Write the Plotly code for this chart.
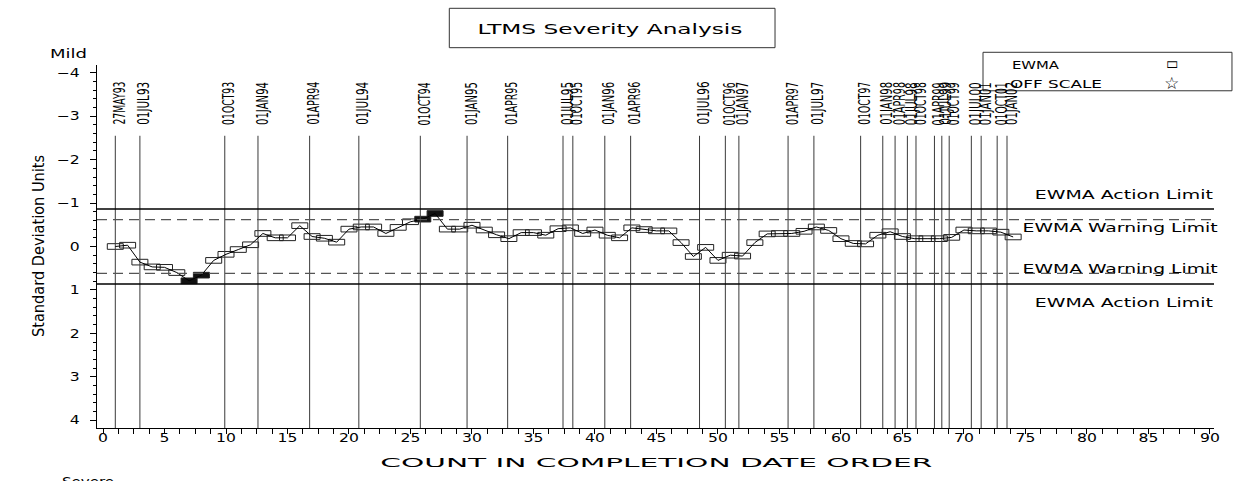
import json
import plotly.graph_objects as go

# ---------------- data ----------------
counts = list(range(1, 75))
ewma = [0.00, -0.03, 0.36, 0.47, 0.48, 0.60, 0.79, 0.66, 0.32, 0.18,
        0.07, -0.04, -0.30, -0.20, -0.20, -0.48, -0.23, -0.19, -0.10, -0.40,
        -0.45, -0.45, -0.30, -0.44, -0.57, -0.63, -0.76, -0.40, -0.40, -0.49,
        -0.38, -0.27, -0.18, -0.32, -0.32, -0.26, -0.41, -0.43, -0.30, -0.38,
        -0.26, -0.20, -0.43, -0.39, -0.36, -0.36, -0.09, 0.23, 0.02, 0.32,
        0.20, 0.22, -0.09, -0.29, -0.30, -0.30, -0.35, -0.45, -0.37, -0.18,
        -0.07, -0.06, -0.26, -0.34, -0.23, -0.18, -0.18, -0.18, -0.21, -0.38,
        -0.36, -0.36, -0.33, -0.22]

date_labels = ["27MAY93", "01JUL93", "01OCT93", "01JAN94", "01APR94", "01JUL94",
               "01OCT94", "01JAN95", "01APR95", "01JUL95", "01OCT95", "01JAN96",
               "01APR96", "01JUL96", "01OCT96", "01JAN97", "01APR97", "01JUL97",
               "01OCT97", "01JAN98", "01APR98", "01JUL98", "01OCT98", "01APR99",
               "01JUL99", "01OCT99", "01JUL00", "01JAN01", "01OCT01", "01JAN02"]
date_pos = [1.0, 3.0, 9.9, 12.6, 16.8, 20.8, 25.8, 29.6, 32.9, 37.4, 38.2, 40.8,
            42.9, 48.5, 50.6, 51.7, 55.7, 57.8, 61.6, 63.4, 64.4, 65.4, 66.1, 67.6,
            68.2, 68.8, 70.6, 71.4, 72.7, 73.5]

ACTION = 0.866
WARNING = 0.62

x_ticks = list(range(0, 95, 5))
y_ticks = list(range(-4, 5))

# ---------------- style ----------------
FONT = "DejaVu Sans"
X_RANGE = [-0.488, 90.33]
Y_RANGE = [4.18, -4.18]
BOX_W = 1.3
BOX_H = 0.13
LINE_TOP = -2.55
LABEL_MID = -3.295

fig = go.Figure()

# vertical date reference lines
vx, vy = [], []
for p in date_pos:
    vx += [p, p, None]
    vy += [LINE_TOP, Y_RANGE[0], None]
fig.add_trace(go.Scatter(x=vx, y=vy, mode="lines",
                         line=dict(color="#3a3a3a", width=1),
                         hoverinfo="skip", showlegend=False))

# EWMA connecting line
fig.add_trace(go.Scatter(x=counts, y=ewma, mode="lines",
                         line=dict(color="black", width=1),
                         showlegend=False, name="EWMA"))

# EWMA rectangles (open within warning, filled beyond)
open_x = [c for c, v in zip(counts, ewma) if abs(v) <= WARNING]
open_v = [v for v in ewma if abs(v) <= WARNING]
fill_x = [c for c, v in zip(counts, ewma) if abs(v) > WARNING]
fill_v = [v for v in ewma if abs(v) > WARNING]

fig.add_trace(go.Bar(x=open_x, y=[BOX_H] * len(open_v),
                     base=[v - BOX_H / 2 for v in open_v], width=BOX_W,
                     marker=dict(color="rgba(0,0,0,0)",
                                 line=dict(color="#222", width=1)),
                     showlegend=False, name="EWMA"))
fig.add_trace(go.Bar(x=fill_x, y=[BOX_H] * len(fill_v),
                     base=[v - BOX_H / 2 for v in fill_v], width=BOX_W,
                     marker=dict(color="#111",
                                 line=dict(color="#222", width=1)),
                     showlegend=False, name="EWMA beyond warning"))

# limit lines
shapes = []
for v in (-ACTION, ACTION):
    shapes.append(dict(type="line", xref="paper", x0=0, x1=1, yref="y", y0=v, y1=v,
                       line=dict(color="black", width=1.5)))
for v in (-WARNING, WARNING):
    shapes.append(dict(type="line", xref="paper", x0=0, x1=1, yref="y", y0=v, y1=v,
                       line=dict(color="#555", width=1.3, dash="10px,6px")))
# title box
shapes.append(dict(type="rect", xref="paper", yref="paper",
                   x0=0.3154, x1=0.607, y0=1.0477, y1=1.1562,
                   line=dict(color="#333", width=1)))
# legend box
shapes.append(dict(type="rect", xref="paper", yref="paper",
                   x0=0.7932, x1=1.0161, y0=0.929, y1=1.035,
                   line=dict(color="#333", width=1)))

ann = []
# date labels
for lab, p in zip(date_labels, date_pos):
    ann.append(dict(x=p, y=LABEL_MID, xref="x", yref="y", text=lab, textangle=-90,
                    showarrow=False, xanchor="center", yanchor="middle", xshift=5,
                    font=dict(family=FONT, size=15, color="black")))
# limit labels
lim_labels = [("EWMA Action Limit", -ACTION, 14, 1),
              ("EWMA Warning Limit", -WARNING, -8, 6),
              ("EWMA Warning Limit", WARNING, 4, 6),
              ("EWMA Action Limit", ACTION, -19, 1)]
for txt, v, ys, xs in lim_labels:
    ann.append(dict(x=1, y=v, xref="paper", yref="y", text=txt, showarrow=False,
                    xanchor="right", yanchor="middle", yshift=ys, xshift=xs,
                    font=dict(family=FONT, size=12, color="black")))
# title
ann.append(dict(x=0.459, y=1.0983, xref="paper", yref="paper",
                text="LTMS Severity Analysis", showarrow=False,
                xanchor="center", yanchor="middle",
                font=dict(family=FONT, size=14, color="black")))
# legend entries
ann += [
    dict(x=0.8173, y=1.0, xref="paper", yref="paper", text="EWMA", showarrow=False,
         xanchor="left", yanchor="middle", font=dict(family=FONT, size=11, color="black")),
    dict(x=0.8155, y=0.947, xref="paper", yref="paper", text="OFF SCALE", showarrow=False,
         xanchor="left", yanchor="middle", font=dict(family=FONT, size=11, color="black")),
    dict(x=0.9621, y=1.006, xref="paper", yref="paper", text="▭", showarrow=False,
         xanchor="center", yanchor="middle",
         font=dict(family=FONT, size=17, color="black", weight="bold")),
    dict(x=0.9621, y=0.951, xref="paper", yref="paper", text="☆", showarrow=False,
         xanchor="center", yanchor="middle",
         font=dict(family=FONT, size=17, color="black", weight="bold")),
]
# axis titles and side notes
ann += [
    dict(x=-0.0528, y=0.501, xref="paper", yref="paper", text="Standard Deviation Units",
         textangle=-90, showarrow=False, xanchor="center", yanchor="middle",
         font=dict(family=FONT, size=16, color="black")),
    dict(x=0.5, y=-0.0937, xref="paper", yref="paper", text="COUNT IN COMPLETION DATE ORDER",
         showarrow=False, xanchor="center", yanchor="middle",
         font=dict(family=FONT, size=13, color="black")),
    dict(x=-0.0439, y=1.030, xref="paper", yref="paper", text="Mild", showarrow=False,
         xanchor="left", yanchor="middle", font=dict(family=FONT, size=12, color="black")),
    dict(x=-0.0331, y=-0.150, xref="paper", yref="paper", text="Severe", showarrow=False,
         xanchor="left", yanchor="middle", font=dict(family=FONT, size=12, color="black")),
]

fig.update_layout(
    width=1233, height=481,
    margin=dict(l=97, r=19, t=65, b=53, autoexpand=False),
    paper_bgcolor="white", plot_bgcolor="white",
    barmode="overlay", showlegend=False,
    shapes=shapes, annotations=ann,
    font=dict(family=FONT, color="black"),
    xaxis=dict(range=X_RANGE, tickvals=x_ticks, showline=True, linecolor="black",
               linewidth=1, ticks="outside", ticklen=5, tickcolor="black",
               minor=dict(dtick=1.25, tick0=0, ticks="outside", ticklen=5, tickcolor="black"),
               showgrid=False, zeroline=False, automargin=False, ticklabelstandoff=-6,
               tickfont=dict(family=FONT, size=12, color="black")),
    yaxis=dict(range=Y_RANGE, tickvals=y_ticks, showline=True, linecolor="black",
               linewidth=1, ticks="outside", ticklen=6, tickcolor="black",
               minor=dict(dtick=0.2, tick0=0, ticks="outside", ticklen=3, tickcolor="black"),
               showgrid=False, zeroline=False, ticklabelstandoff=8, automargin=False,
               tickfont=dict(family=FONT, size=12, color="black")),
)

# horizontal extents to mimic the wide SAS stroke font
targets = {"LTMS Severity Analysis": [265, "c"], "Mild": [37, "l"], "Severe": [52, "l"],
           "EWMA Action Limit": [178, "r"], "EWMA Warning Limit": [195, "r"],
           "EWMA": [47, "l"], "OFF SCALE": [92, "l"], "☆": [15, "c"], "▭": [12, "c"],
           "COUNT IN COMPLETION DATE ORDER": [552, "c"],
           "Standard Deviation Units": [182, "c"]}
for lab in date_labels:
    targets[lab] = [43, "c"]

post = """
document.body.style.margin = '0';
document.body.style.overflow = 'hidden';
var gd = document.getElementById('{plot_id}');
var T = %s;
gd.querySelectorAll('text').forEach(function(t){
  var s = t.textContent;
  var L = null, mode = 'c';
  if (Object.prototype.hasOwnProperty.call(T, s)) { L = T[s][0]; mode = T[s][1]; }
  else if (t.closest('.ytick')) { L = t.getComputedTextLength() * 1.3; mode = 'r'; }
  else if (t.closest('.xtick')) { L = t.getComputedTextLength() * 1.3; mode = 'c'; }
  if (!L) return;
  var b0 = t.getBBox();
  t.setAttribute('textLength', L);
  t.setAttribute('lengthAdjust', 'spacingAndGlyphs');
  var b1 = t.getBBox();
  var dx;
  if (mode === 'r') { dx = (b0.x + b0.width) - (b1.x + b1.width); }
  else if (mode === 'l') { dx = b0.x - b1.x; }
  else { dx = (b0.x + b0.width / 2) - (b1.x + b1.width / 2); }
  var x0 = parseFloat(t.getAttribute('x') || '0');
  t.setAttribute('x', x0 + dx);
});
""" % json.dumps(targets)

fig.write_html("out.html", post_script=post, config={"displayModeBar": False})
